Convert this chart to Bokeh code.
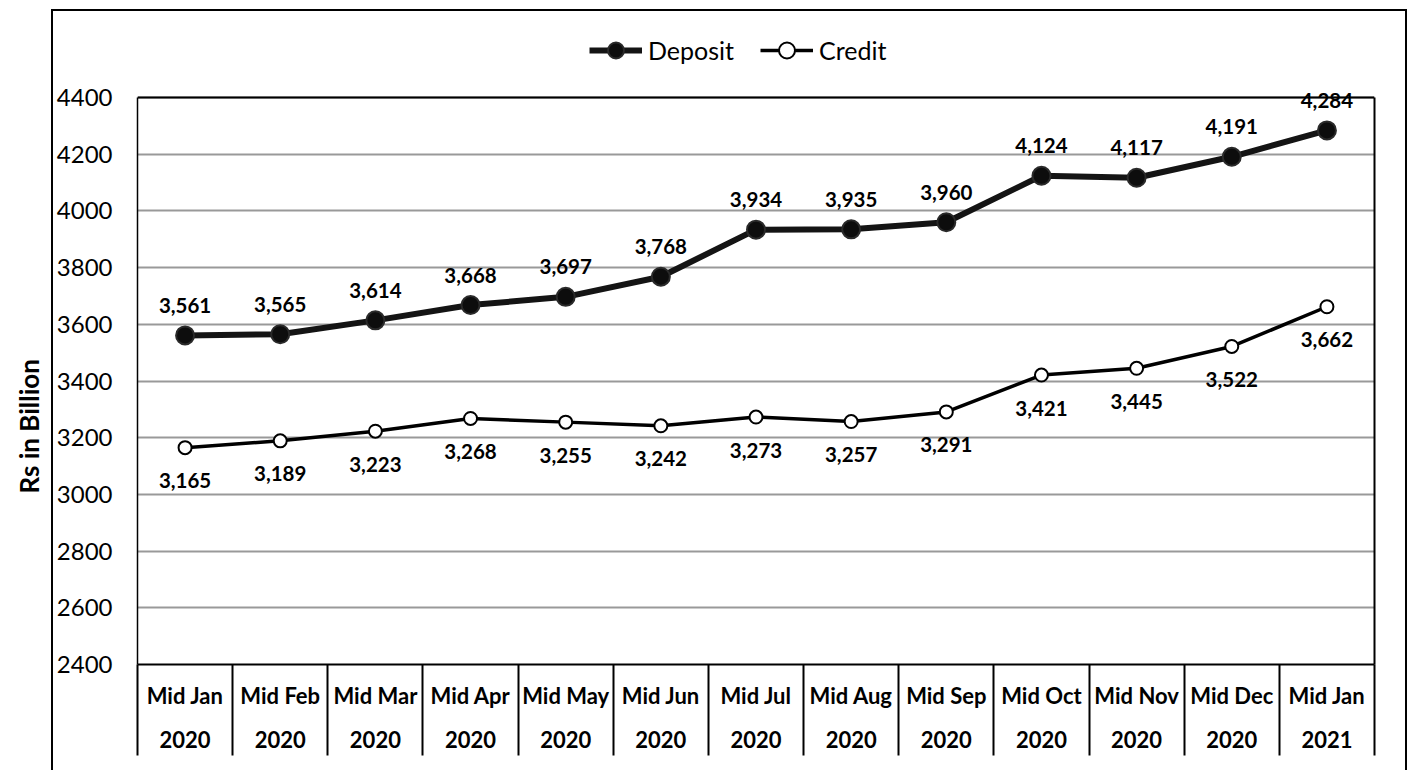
from bokeh.plotting import figure
from bokeh.models import (Range1d, FixedTicker, LinearAxis, ColumnDataSource, LabelSet, Title,
                          Legend, LegendItem, InlineStyleSheet)
from bokeh.core.properties import value
from bokeh.embed import file_html
from bokeh.resources import INLINE

months = ["Mid Jan", "Mid Feb", "Mid Mar", "Mid Apr", "Mid May", "Mid Jun", "Mid Jul",
          "Mid Aug", "Mid Sep", "Mid Oct", "Mid Nov", "Mid Dec", "Mid Jan"]
years = ["2020", "2020", "2020", "2020", "2020", "2020", "2020",
         "2020", "2020", "2020", "2020", "2020", "2021"]
deposit = [3561, 3565, 3614, 3668, 3697, 3768, 3934, 3935, 3960, 4124, 4117, 4191, 4284]
credit = [3165, 3189, 3223, 3268, 3255, 3242, 3273, 3257, 3291, 3421, 3445, 3522, 3662]
y_ticks = [2400, 2600, 2800, 3000, 3200, 3400, 3600, 3800, 4000, 4200, 4400]
y_view_top = 4700  # headroom above the plot box for the legend
y_title = "Rs in Billion"

FONT = "Lato"
n = len(months)
xs = [i + 0.5 for i in range(n)]

src = ColumnDataSource(dict(
    x=xs, dep=deposit, cre=credit,
    dep_lbl=[f"{v:,}" for v in deposit],
    cre_lbl=[f"{v:,}" for v in credit],
))

p = figure(width=1407, height=770,
           min_border_left=137, min_border_right=33, min_border_top=12, min_border_bottom=106,
           x_range=Range1d(0, n), y_range=Range1d(y_ticks[0], y_view_top),
           output_backend="svg", toolbar_location=None, x_axis_location=None)
p.background_fill_color = "white"
p.border_fill_color = "white"
p.outline_line_color = None

# outer chart border drawn with CSS on the figure host
p.stylesheets = [InlineStyleSheet(css="""
:host { position: relative; }
:host::after { content: ""; position: absolute; left: 51px; top: 9px; right: 0px;
  bottom: -40px; border: 2px solid black; pointer-events: none; box-sizing: border-box; }
""")]

# y axis (left edge of the plot box)
yax = p.yaxis[0]
yax.ticker = FixedTicker(ticks=y_ticks)
yax.bounds = (y_ticks[0], y_ticks[-1])
yax.axis_line_color = "black"
yax.axis_line_width = 1.5
yax.major_tick_line_color = None
yax.minor_tick_line_color = None
yax.major_tick_out = 0
yax.major_tick_in = 0
yax.major_label_standoff = 25
yax.major_label_text_font = FONT
yax.major_label_text_font_size = "24px"
yax.major_label_text_color = "black"

# y axis title, placed like the original (a little below the plot-box centre)
ytitle = Title(text=y_title, align="left", offset=171, standoff=18,
               text_font=FONT, text_font_style="bold", text_font_size="26px",
               text_color="black")
p.add_layout(ytitle, "left")

# right edge of the plot box
rax = LinearAxis(ticker=FixedTicker(ticks=[]), bounds=(y_ticks[0], y_ticks[-1]))
rax.axis_line_color = "black"
rax.axis_line_width = 2
rax.major_tick_line_color = None
rax.minor_tick_line_color = None
rax.major_label_text_font_size = "0px"
p.add_layout(rax, "right")

p.ygrid.ticker = FixedTicker(ticks=y_ticks)
p.ygrid.grid_line_color = "#999999"
p.ygrid.grid_line_width = 2
p.xgrid.grid_line_color = None

# top edge of the plot box
p.segment(x0=[0], x1=[n], y0=[y_ticks[-1]], y1=[y_ticks[-1]],
          line_color="black", line_width=2)

# x axes (month row with separators, year row)
overr_m = {x: m for x, m in zip(xs, months)}
overr_y = {x: y for x, y in zip(xs, years)}
ax_m = LinearAxis(ticker=FixedTicker(ticks=xs, minor_ticks=list(range(n + 1))),
                  major_label_overrides=overr_m)
ax_m.axis_line_color = "black"
ax_m.axis_line_width = 2
ax_m.major_tick_line_color = None
ax_m.major_tick_out = 0
ax_m.major_tick_in = 0
ax_m.minor_tick_line_color = "black"
ax_m.minor_tick_line_width = 2
ax_m.minor_tick_out = 91
ax_m.minor_tick_in = 0
ax_m.major_label_standoff = -74
ax_m.major_label_text_font = FONT
ax_m.major_label_text_font_style = "bold"
ax_m.major_label_text_font_size = "22px"
ax_m.major_label_text_color = "black"
p.add_layout(ax_m, "below")

ax_y = LinearAxis(ticker=FixedTicker(ticks=xs), major_label_overrides=overr_y)
ax_y.axis_line_color = None
ax_y.major_tick_line_color = None
ax_y.minor_tick_line_color = None
ax_y.major_tick_out = 0
ax_y.major_tick_in = 0
ax_y.minor_tick_out = 0
ax_y.major_label_standoff = 19
ax_y.major_label_text_font = FONT
ax_y.major_label_text_font_style = "bold"
ax_y.major_label_text_font_size = "22px"
ax_y.major_label_text_color = "black"
p.add_layout(ax_y, "below")

# series
dl = p.line("x", "dep", source=src, line_color="#141414", line_width=6)
dm = p.scatter("x", "dep", source=src, size=18, fill_color="#0d0d0d",
               line_color="#2a2a2a", line_width=2)
cl = p.line("x", "cre", source=src, line_color="black", line_width=3.5)
cm = p.scatter("x", "cre", source=src, size=13, fill_color="white",
               line_color="black", line_width=2)

lbl_kw = dict(text_align="center", text_baseline="middle", text_font=value(FONT),
              text_font_style=value("bold"), text_font_size=value("20.5px"),
              text_color="black")
lbl_d = LabelSet(x="x", y="dep", text="dep_lbl", source=src, y_offset=30, **lbl_kw)
lbl_c = LabelSet(x="x", y="cre", text="cre_lbl", source=src, y_offset=-33, **lbl_kw)
p.add_layout(lbl_d)
p.add_layout(lbl_c)

legend = Legend(items=[LegendItem(label="Deposit", renderers=[dl, dm]),
                       LegendItem(label="Credit", renderers=[cl, cm])],
                orientation="horizontal", location=(452, 594))
legend.label_text_font = FONT
legend.label_text_font_size = "25px"
legend.label_text_color = "black"
legend.glyph_width = 53
legend.glyph_height = 40
legend.label_standoff = 6
legend.spacing = 26
legend.border_line_color = None
legend.background_fill_alpha = 0
legend.padding = 4
legend.margin = 0
p.add_layout(legend, "center")

open("out.html", "w").write(file_html(p, INLINE))
